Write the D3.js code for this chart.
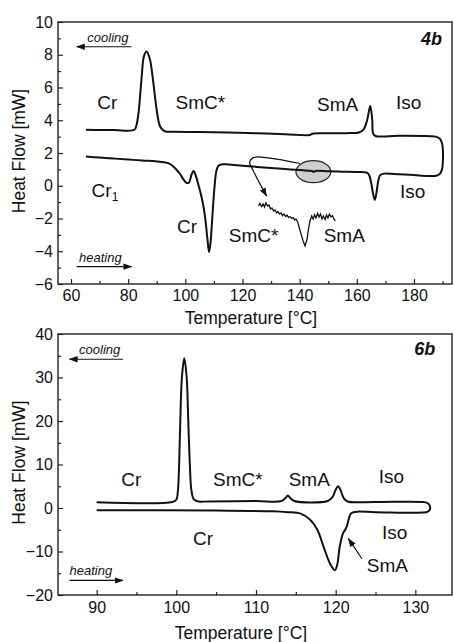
<!DOCTYPE html>
<html>
<head>
<meta charset="utf-8">
<script src="https://cdn.jsdelivr.net/npm/d3@7"></script>
<style>
body { margin: 0; background: #fff; }
svg { display: block; font-family: "Liberation Sans", Arial, sans-serif; }
.axis text { font-size: 16px; fill: #111; }
.axis line { stroke: #222; stroke-width: 1.2; }
.lbl { font-size: 19px; fill: #111; }
.note { font-size: 13px; font-style: italic; fill: #111; }
.tag { font-size: 18px; font-weight: bold; font-style: italic; fill: #111; }
.title { font-size: 17.5px; fill: #111; }
</style>
</head>
<body>
<svg width="454" height="642"></svg>
<script>
// ---- panel 4b (DSC, heating then cooling) ----
const tempHeat4b = [65.2, 70, 75, 80, 85, 91, 94, 96, 98, 99.5, 100.5, 101.3, 102.2, 102.9, 103.7, 104.5, 105.2, 106, 106.9, 107.7, 108.3, 108.8, 109.3, 109.8, 110.3, 110.8, 111.5, 112.5, 115, 120, 125, 130, 135, 140, 143, 144.3, 144.9, 145.5, 150, 155, 160, 163.5, 164.3, 165.0, 165.7, 166.3, 166.9, 167.5, 168.2, 169.5, 175, 180, 185, 187.5, 189.0, 189.8, 190.1, 190.1, 189.8, 189.0, 187.5];
const flowHeat4b = [1.78, 1.72, 1.66, 1.60, 1.54, 1.47, 1.38, 1.15, 0.75, 0.35, 0.17, 0.2, 0.7, 0.9, 0.6, 0.1, -0.35, -0.95, -1.9, -3.2, -4.05, -3.5, -2.3, -1.0, 0.1, 0.85, 1.2, 1.3, 1.3, 1.22, 1.15, 1.08, 1.02, 0.96, 0.92, 0.9, 0.84, 0.9, 0.88, 0.86, 0.84, 0.8, 0.65, 0.2, -0.5, -0.87, -0.4, 0.3, 0.65, 0.74, 0.7, 0.65, 0.6, 0.6, 0.72, 1.0, 1.5, 2.2, 2.6, 2.88, 3.0];
const tempCool4b = [65.2, 75, 82.2, 82.9, 83.6, 84.7, 85.5, 86.4, 87.5, 88.8, 90.0, 91.1, 92.3, 93.5, 95, 105, 115, 125, 135, 143.5, 144.5, 150, 158, 160.7, 162.4, 163.6, 164.7, 165.4, 165.7, 166.5, 175, 186];
const flowCool4b = [3.42, 3.40, 3.42, 3.7, 4.4, 6.6, 7.9, 8.2, 7.8, 6.3, 4.6, 3.65, 3.38, 3.30, 3.30, 3.28, 3.25, 3.2, 3.15, 3.10, 3.18, 3.2, 3.22, 3.25, 3.45, 4.0, 4.87, 4.0, 3.2, 3.04, 3.05, 3.03];
// magnified SmC*-SmA transition drawn below the trace
const tempInset4b = [125.6, 126.1, 126.7, 127.2, 127.7, 128.2, 128.8, 129.3, 129.8, 130.3, 130.9, 131.4, 131.9, 132.4, 133.0, 133.5, 134.0, 134.5, 135.1, 135.6, 136.1, 136.6, 137.2, 137.7, 138.2, 138.7, 139.3, 139.8, 140.5, 141.2, 141.9, 142.6, 143.1, 143.6, 144.2, 144.7, 145.2, 145.7, 146.3, 146.8, 147.3, 147.8, 148.3, 148.9, 149.4, 149.9, 150.4, 151.0, 151.5, 152.0, 152.5];
const flowInset4b = [-1.24, -1.08, -1.27, -1.11, -1.30, -1.05, -1.24, -1.18, -1.42, -1.36, -1.54, -1.48, -1.66, -1.57, -1.73, -1.66, -1.82, -1.73, -1.88, -1.79, -1.94, -1.88, -2.0, -1.94, -2.09, -2.03, -2.21, -2.52, -2.95, -3.37, -3.68, -3.25, -2.64, -2.15, -1.85, -2.03, -1.76, -1.97, -1.69, -1.91, -1.73, -2.03, -1.85, -2.06, -1.79, -1.97, -1.73, -1.91, -1.82, -2.03, -2.15];
const xTicks4b = [60, 80, 100, 120, 140, 160, 180];
const xMinor4b = [70, 90, 110, 130, 150, 170, 190];
const yTicks4b = [-6, -4, -2, 0, 2, 4, 6, 8, 10];
const yMinor4b = [-5, -3, -1, 1, 3, 5, 7, 9];

// ---- panel 6b ----
const tempHeat6b = [90, 105, 112, 114, 115.6, 116.8, 117.7, 118.5, 119.3, 119.9, 120.2, 120.5, 120.9, 121.2, 121.4, 121.6, 121.9, 122.4, 125, 131, 131.5, 131.8, 131.85, 131.7, 131.3];
const flowHeat6b = [-0.5, -0.6, -0.75, -0.95, -1.3, -2.7, -5.0, -9.0, -12.8, -14.3, -13, -9.0, -5.9, -5.0, -4.2, -2.8, -1.3, -0.9, -0.95, -1.05, -0.9, -0.4, 0.3, 0.9, 1.3];
const tempCool6b = [90, 99.5, 100.0, 100.2, 100.35, 100.5, 100.7, 101.0, 101.3, 101.5, 101.7, 101.9, 102.2, 102.8, 104, 110, 113.2, 113.7, 114.0, 114.3, 114.8, 119.0, 119.6, 120.0, 120.3, 120.6, 121.0, 121.5, 125, 130.8];
const flowCool6b = [1.35, 1.4, 1.9, 4, 10, 20, 30, 34.4, 30, 20, 10, 4, 2.0, 1.5, 1.5, 1.6, 1.6, 2.3, 2.9, 2.3, 1.6, 1.6, 2.5, 4.2, 5.0, 4.2, 2.3, 1.5, 1.4, 1.4];
const xTicks6b = [90, 100, 110, 120, 130];
const xMinor6b = [95, 105, 115, 125];
const yTicks6b = [-20, -10, 0, 10, 20, 30, 40];
const yMinor6b = [-15, -5, 5, 15, 25, 35];

let svg = d3.select("svg");
const left = 58, right = 452;

svg.append("defs").append("marker")
    .attr("id", "head")
    .attr("viewBox", "0 0 10 10")
    .attr("refX", 9).attr("refY", 5)
    .attr("markerWidth", 9).attr("markerHeight", 9)
    .attr("markerUnits", "userSpaceOnUse")
    .attr("orient", "auto")
    .append("path").attr("d", "M0,1.5L10,5L0,8.5Z").attr("fill", "#111");

function drawPanel(p) {
    let x = d3.scaleLinear().domain(p.xDomain).range([left, right]);
    let y = d3.scaleLinear().domain(p.yDomain).range([p.bottom, p.top]);
    let g = svg.append("g");

    // ticks point inward
    const addAxis = (axis, tr) => g.append("g").attr("class", "axis")
        .attr("transform", tr).call(axis).call(a => a.select(".domain").remove());
    addAxis(d3.axisBottom(x).tickValues(p.xTicks).tickSize(-5).tickPadding(p.xPad), "translate(0," + p.bottom + ")");
    addAxis(d3.axisBottom(x).tickValues(p.xMinor).tickSize(-3).tickFormat(""), "translate(0," + p.bottom + ")");
    addAxis(d3.axisLeft(y).tickValues(p.yTicks).tickSize(-5).tickPadding(5), "translate(" + left + ",0)");
    addAxis(d3.axisLeft(y).tickValues(p.yMinor).tickSize(-3).tickFormat(""), "translate(" + left + ",0)");

    g.append("rect")
        .attr("x", left).attr("y", p.top)
        .attr("width", right - left).attr("height", p.bottom - p.top)
        .attr("fill", "none").attr("stroke", "#222").attr("stroke-width", 1.4);

    let line = d3.line().x(d => x(d[0])).y(d => y(d[1])).curve(d3.curveCatmullRom.alpha(0.5));

    if (p.ellipse) {
        let e = p.ellipse;
        g.append("ellipse")
            .attr("cx", x(e.t)).attr("cy", y(e.v))
            .attr("rx", x(e.t + e.dt) - x(e.t)).attr("ry", y(e.v) - y(e.v + e.dv))
            .attr("fill", "#cfcfcf").attr("stroke", "#222").attr("stroke-width", 1.2);
    }

    // one continuous trace: heating, turn at the top temperature, then cooling back
    let trace = d3.zip(p.tempHeat, p.flowHeat).concat(d3.zip(p.tempCool, p.flowCool).reverse());
    g.append("path").datum(trace)
        .attr("d", line).attr("fill", "none")
        .attr("stroke", "#111").attr("stroke-width", 2).attr("stroke-linejoin", "round");

    if (p.tempInset) {
        g.append("path").datum(d3.zip(p.tempInset, p.flowInset))
            .attr("d", d3.line().x(d => x(d[0])).y(d => y(d[1])))
            .attr("fill", "none").attr("stroke", "#111").attr("stroke-width", 1.3);
    }

    p.arrows.forEach(a => {
        g.append("path").datum(a.pts)
            .attr("d", line).attr("fill", "none")
            .attr("stroke", "#111").attr("stroke-width", 1.2)
            .attr("marker-end", "url(#head)");
    });

    p.notes.forEach(n => {
        g.append("text").attr("class", "note").attr("x", x(n.t)).attr("y", y(n.v)).text(n.text);
    });

    p.labels.forEach(l => {
        let t = g.append("text").attr("class", "lbl").attr("x", x(l.t)).attr("y", y(l.v)).text(l.text);
        if (l.sub) t.append("tspan").attr("font-size", 12).attr("dy", 4).text(l.sub);
    });

    g.append("text").attr("class", "tag")
        .attr("x", x(p.tag.t)).attr("y", y(p.tag.v))
        .attr("text-anchor", "end").text(p.tag.text);

    g.append("text").attr("class", "title")
        .attr("x", p.titleX).attr("y", p.bottom + p.titleDy)
        .attr("text-anchor", "middle").text("Temperature [°C]");

    g.append("text").attr("class", "title")
        .attr("transform", "translate(25," + ((p.top + p.bottom) / 2 - 2) + ") rotate(-90)")
        .attr("text-anchor", "middle").text("Heat Flow [mW]");
}

drawPanel({
    xDomain: [55.45, 193.3], yDomain: [-6, 10], top: 22, bottom: 284,
    xTicks: xTicks4b, xMinor: xMinor4b, yTicks: yTicks4b, yMinor: yMinor4b, xPad: 6,
    tempHeat: tempHeat4b, flowHeat: flowHeat4b, tempCool: tempCool4b, flowCool: flowCool4b,
    tempInset: tempInset4b, flowInset: flowInset4b,
    ellipse: {t: 144.8, v: 0.86, dt: 6.1, dv: 0.67},
    arrows: [
        {pts: [[81.2, 8.49], [62.0, 8.49]]},
        {pts: [[62.0, -4.94], [81.2, -4.94]]},
        {pts: [[140.1, 1.36], [129.6, 1.69], [124.0, 1.73], [122.5, 1.45], [123.3, 1.08], [128.4, -0.63]]}
    ],
    notes: [{text: "cooling", t: 65.7, v: 8.8}, {text: "heating", t: 62.8, v: -4.64}],
    labels: [
        {text: "Cr", t: 69.2, v: 4.67},
        {text: "SmC*", t: 96.6, v: 4.67},
        {text: "SmA", t: 146.1, v: 4.56},
        {text: "Iso", t: 173.7, v: 4.67},
        {text: "Cr", sub: "1", t: 67.2, v: -0.67},
        {text: "Cr", t: 97.1, v: -2.87},
        {text: "Iso", t: 175.1, v: -0.77},
        {text: "SmC*", t: 115.2, v: -3.42},
        {text: "SmA", t: 148.4, v: -3.42}
    ],
    tag: {text: "4b", t: 189.8, v: 8.6},
    titleX: 251, titleDy: 40
});

drawPanel({
    xDomain: [85.15, 134.6], yDomain: [-20, 40], top: 334, bottom: 595,
    xTicks: xTicks6b, xMinor: xMinor6b, yTicks: yTicks6b, yMinor: yMinor6b, xPad: 6.5,
    tempHeat: tempHeat6b, flowHeat: flowHeat6b, tempCool: tempCool6b, flowCool: flowCool6b,
    arrows: [
        {pts: [[93.3, 34.2], [86.6, 34.2]]},
        {pts: [[86.6, -16.66], [93.3, -16.66]]},
        {pts: [[123.3, -11.66], [121.6, -7.05]]}
    ],
    notes: [{text: "cooling", t: 87.8, v: 35.3}, {text: "heating", t: 86.6, v: -15.5}],
    labels: [
        {text: "Cr", t: 93.1, v: 5.16},
        {text: "SmC*", t: 104.6, v: 5.16},
        {text: "SmA", t: 114.1, v: 5.16},
        {text: "Iso", t: 125.4, v: 5.7},
        {text: "Cr", t: 102.1, v: -8.6},
        {text: "Iso", t: 125.8, v: -7.05},
        {text: "SmA", t: 123.9, v: -14.75}
    ],
    tag: {text: "6b", t: 132.5, v: 35.2},
    titleX: 241, titleDy: 44
});
</script>
</body>
</html>
